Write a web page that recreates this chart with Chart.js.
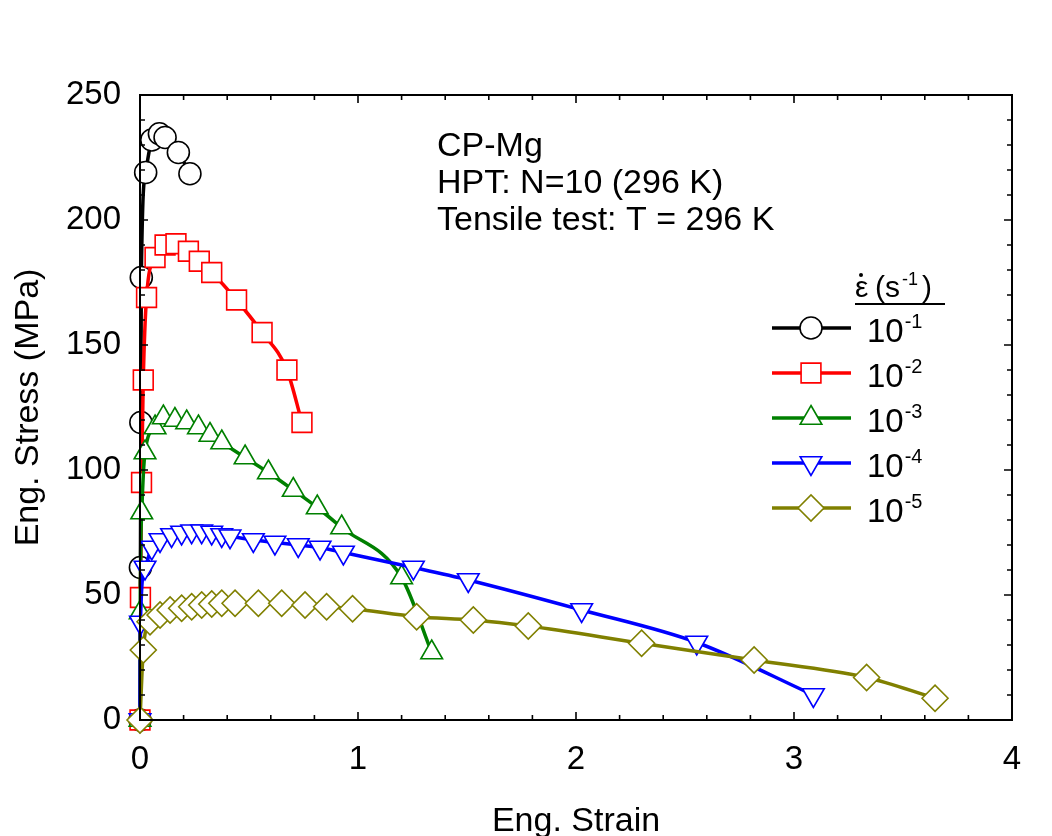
<!DOCTYPE html>
<html>
<head>
<meta charset="utf-8">
<script src="https://cdn.jsdelivr.net/npm/chart.js@4/dist/chart.umd.min.js"></script>
<style>
  html, body { margin: 0; padding: 0; background: #fff; }
  #wrap { width: 1052px; height: 836px; }
</style>
</head>
<body>
<div id="wrap"><canvas id="chart" width="1052" height="836"></canvas></div>
<script>
/* CP-Mg tensile curves, 5 strain rates */

const rateLabels = ['-1', '-2', '-3', '-4', '-5'];
const colors = ['#000000', '#ff0000', '#008000', '#0000ff', '#808000'];

const strain1 = [0, 0.002, 0.004, 0.006, 0.026, 0.054, 0.089, 0.115, 0.176, 0.229];
const stress1 = [0, 61, 119, 177, 219, 232, 234.5, 233, 227, 218.5];

const strain2 = [0, 0.002, 0.007, 0.015, 0.03, 0.069, 0.115, 0.165, 0.222, 0.272, 0.329, 0.443, 0.56, 0.674, 0.743];
const stress2 = [0, 49, 95, 136, 169, 185, 190, 190.5, 187.5, 183.5, 179, 168, 155, 140, 119];

const strain3 = [0, 0.001, 0.008, 0.023, 0.069, 0.107, 0.16, 0.214, 0.268, 0.321, 0.375, 0.482, 0.589, 0.703, 0.813, 0.925, 1.2, 1.338];
const stress3 = [0, 43, 83, 107, 117, 121, 120, 119, 117, 114, 111, 105, 99, 92, 85, 77, 57, 27];

const strain4 = [0, 0.002, 0.023, 0.054, 0.092, 0.145, 0.191, 0.237, 0.283, 0.329, 0.375, 0.413, 0.52, 0.619, 0.726, 0.826, 0.933, 1.254, 1.506, 2.026, 2.554, 3.089];
const stress4 = [0, 39, 61, 69, 72, 74, 75, 75.5, 75.5, 75, 74, 73.5, 72, 71, 70, 69, 67, 61, 56, 44, 31, 10];

const strain5 = [0, 0.015, 0.046, 0.092, 0.138, 0.191, 0.237, 0.283, 0.329, 0.375, 0.436, 0.543, 0.65, 0.757, 0.856, 0.975, 1.269, 1.529, 1.781, 2.301, 2.817, 3.333, 3.647];
const stress5 = [0, 28, 39.3, 42, 44, 44.7, 45.3, 46, 46.4, 46.7, 46.7, 46.7, 46.7, 46, 45.3, 44.5, 41.3, 40, 37.6, 30.7, 24, 17, 8.7];

const annotation = ['CP-Mg', 'HPT: N=10 (296 K)', 'Tensile test: T = 296 K'];
const xTitle = 'Eng. Strain';
const yTitle = 'Eng. Stress (MPa)';

const FONT = "'Liberation Sans', Arial, sans-serif";

const markers = [
  { pointStyle: 'circle', radius: 11, rotation: 0 },
  { pointStyle: 'rect', radius: 14, rotation: 0 },
  { pointStyle: 'triangle', radius: 12.5, rotation: 0 },
  { pointStyle: 'triangle', radius: 12.5, rotation: 180 },
  { pointStyle: 'rectRot', radius: 13, rotation: 0 },
];

const series = [
  [strain1, stress1], [strain2, stress2], [strain3, stress3], [strain4, stress4], [strain5, stress5],
];

const datasets = series.map(([xs, ys], i) => ({
  label: '10' + rateLabels[i],
  data: xs.map((x, k) => ({ x, y: ys[k] })),
  showLine: true,
  borderColor: colors[i],
  borderWidth: 3.5,
  cubicInterpolationMode: 'monotone',
  pointStyle: markers[i].pointStyle,
  pointRadius: markers[i].radius,
  pointRotation: markers[i].rotation,
  pointBackgroundColor: '#ffffff',
  pointBorderColor: colors[i],
  pointBorderWidth: 1.6,
  clip: false,
  order: 5 - i,
}));

const isMajor = (v, step) => Math.abs(v / step - Math.round(v / step)) < 1e-6;

// frame + inward ticks on all four sides, axis titles, annotation, custom legend
const framePlugin = {
  id: 'frame',
  afterDraw(chart) {
    const { ctx, chartArea: a, scales } = chart;
    ctx.save();
    ctx.strokeStyle = '#000';
    ctx.lineWidth = 2;
    ctx.strokeRect(a.left, a.top, a.right - a.left, a.bottom - a.top);

    ctx.lineWidth = 1.6;
    ctx.beginPath();
    scales.x.ticks.forEach((t) => {
      const px = scales.x.getPixelForValue(t.value);
      const len = isMajor(t.value, 1) ? 8 : 5;
      ctx.moveTo(px, a.bottom); ctx.lineTo(px, a.bottom - len);
      ctx.moveTo(px, a.top); ctx.lineTo(px, a.top + len);
    });
    scales.y.ticks.forEach((t) => {
      const py = scales.y.getPixelForValue(t.value);
      const len = isMajor(t.value, 50) ? 8 : 5;
      ctx.moveTo(a.left, py); ctx.lineTo(a.left + len, py);
      ctx.moveTo(a.right, py); ctx.lineTo(a.right - len, py);
    });
    ctx.stroke();

    ctx.fillStyle = '#000';
    ctx.textBaseline = 'alphabetic';

    // axis titles
    ctx.font = `34px ${FONT}`;
    ctx.textAlign = 'center';
    ctx.fillText(xTitle, (a.left + a.right) / 2, 831);
    ctx.save();
    ctx.translate(38, (a.top + a.bottom) / 2);
    ctx.rotate(-Math.PI / 2);
    ctx.fillText(yTitle, 0, 0);
    ctx.restore();

    // annotation
    ctx.textAlign = 'left';
    ctx.font = `34px ${FONT}`;
    annotation.forEach((line, i) => ctx.fillText(line, 437, 156 + i * 37));

    // legend title: eps-dot (s^-1)
    ctx.font = `30px ${FONT}`;
    ctx.fillText('\u03b5', 855, 297);
    ctx.beginPath();
    ctx.arc(861, 275, 2, 0, Math.PI * 2);
    ctx.fill();
    ctx.fillText('(s', 875, 297);
    const sW = ctx.measureText('(s').width;
    ctx.font = `18px ${FONT}`;
    ctx.fillText('-1', 875 + sW + 2, 285);
    const eW = ctx.measureText('-1').width;
    ctx.font = `30px ${FONT}`;
    ctx.fillText(')', 875 + sW + eW + 6, 297);
    ctx.lineWidth = 2;
    ctx.beginPath();
    ctx.moveTo(855, 304); ctx.lineTo(945, 304);
    ctx.stroke();

    // legend rows
    const drawPoint = Chart.helpers && Chart.helpers.drawPoint;
    rateLabels.forEach((exp, i) => {
      const y = 328 + i * 45;
      ctx.strokeStyle = colors[i];
      ctx.lineWidth = 3.5;
      ctx.beginPath();
      ctx.moveTo(772, y); ctx.lineTo(851, y);
      ctx.stroke();
      if (drawPoint) {
        ctx.fillStyle = '#fff';
        ctx.lineWidth = 1.6;
        drawPoint(ctx, { pointStyle: markers[i].pointStyle, radius: markers[i].radius, rotation: markers[i].rotation, borderWidth: 1.6 }, 811, y);
      }
      ctx.fillStyle = '#000';
      ctx.font = `33px ${FONT}`;
      ctx.fillText('10', 867, y + 14);
      const w = ctx.measureText('10').width;
      ctx.font = `20px ${FONT}`;
      ctx.fillText(exp, 867 + w + 1, y);
    });
    ctx.restore();
  },
};

new Chart(document.getElementById('chart'), {
  type: 'scatter',
  data: { datasets },
  plugins: [framePlugin],
  options: {
    responsive: false,
    animation: false,
    devicePixelRatio: 1,
    layout: { padding: { top: 95, right: 40, left: 0, bottom: 0 } },
    plugins: { legend: { display: false }, tooltip: { enabled: false } },
    scales: {
      x: {
        type: 'linear',
        min: 0,
        max: 4,
        afterFit: (s) => { s.height = 116; },
        grid: { display: false, drawTicks: false },
        border: { display: false },
        ticks: {
          stepSize: 0.2,
          autoSkip: false,
          maxRotation: 0,
          padding: 20,
          color: '#000',
          font: { family: FONT, size: 33 },
          callback: (v) => (isMajor(v, 1) ? String(Math.round(v)) : ''),
        },
      },
      y: {
        type: 'linear',
        min: 0,
        max: 250,
        afterFit: (s) => { s.width = 140; },
        grid: { display: false, drawTicks: false },
        border: { display: false },
        ticks: {
          stepSize: 10,
          autoSkip: false,
          padding: 19,
          color: '#000',
          font: { family: FONT, size: 33 },
          callback: (v) => (isMajor(v, 50) ? String(Math.round(v)) : ''),
        },
      },
    },
  },
});
</script>
</body>
</html>
